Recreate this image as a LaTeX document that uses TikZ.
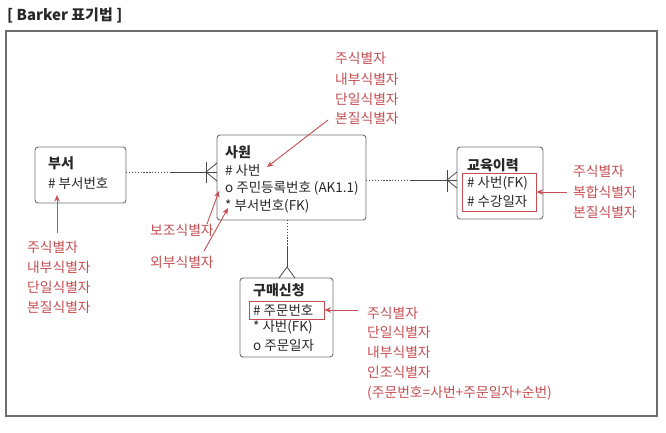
\documentclass[tikz,border=0pt]{standalone}
\usepackage{fontspec}
\setmainfont{Noto Sans CJK KR}
\usetikzlibrary{arrows.meta}
\definecolor{lblred}{RGB}{196,78,82}
\definecolor{txt}{RGB}{40,40,40}
\definecolor{boxgray}{RGB}{110,110,110}
\begin{document}
\begin{tikzpicture}[x=1pt,y=-1pt,
  ebox/.style={draw=boxgray, line width=0.9pt, rounded corners=3pt, inner sep=0pt},
  rbox/.style={draw=lblred, line width=1pt, inner sep=0pt},
  ttl/.style={font=\fontsize{14}{16}\selectfont\bfseries, text=txt, anchor=west, inner sep=0pt},
  att/.style={font=\fontsize{13.5}{15}\selectfont, text=txt, anchor=west, inner sep=0pt},
  lbl/.style={font=\fontsize{13.8}{15}\selectfont, text=lblred, anchor=west, inner sep=0pt},
  rel/.style={draw=txt!85, line width=0.8pt},
  reldot/.style={draw=txt!85, line width=0.9pt, dash pattern=on 1.3pt off 1.6pt},
  rarr/.style={draw=lblred, line width=0.9pt, -{Stealth[length=6.5pt,width=5.5pt]}}]
\useasboundingbox (0,0) rectangle (666,432);
% title and frame
\node[anchor=west, inner sep=0pt, text=txt, font=\fontsize{15}{17}\selectfont\bfseries] (title) at (7,15) {[ Barker 표기법 ]};
\draw[draw=boxgray, line width=1.4pt] (6,31) rectangle (657,416);

% boxes
\node[ebox, minimum width=91pt, minimum height=56pt] (buseo) at (80.5,175) {};
\node[ebox, minimum width=149pt, minimum height=85pt] (sawon) at (291.5,177.5) {};
\node[ebox, minimum width=86pt, minimum height=72pt] (edu) at (500,183) {};
\node[ebox, minimum width=93pt, minimum height=79pt] (order) at (286.5,317.5) {};

% texts 부서
\node[ttl] (buseoT) at (48,163) {부서};
\node[att] (buseoA) at (48,183) {\# 부서번호};
% 사원
\node[ttl] (sawonT) at (225,152) {사원};
\node[att] (sawonA) at (225,170) {\# 사번};
\node[att] (sawonB) at (225,188) {o 주민등록번호 (AK1.1)};
\node[att] (sawonC) at (225,206) {* 부서번호(FK)};
% 교육이력
\node[ttl] (eduT) at (467,165) {교육이력};
\node[rbox, minimum width=74pt, minimum height=38pt] (eduR) at (499,192) {};
\node[att] (eduA) at (467,183) {\# 사번(FK)};
\node[att] (eduB) at (467,201) {\# 수강일자};
% 구매신청
\node[ttl] (orderT) at (253,290) {구매신청};
\node[rbox, minimum width=75pt, minimum height=18pt] (orderR) at (286.5,310) {};
\node[att] (orderA) at (253,310) {\# 주문번호};
\node[att] (orderB) at (253,327) {* 사번(FK)};
\node[att] (orderC) at (253,345) {o 주문일자};

% relationship 부서 - 사원
\coordinate (r1a) at (126,172);
\coordinate (r1b) at (170,172);
\coordinate (r1c) at (217,172);
\draw[reldot] (r1a) -- (r1b);
\draw[rel] (r1b) -- (r1c);
\draw[rel] (206,162) -- (206,183);
\draw[rel] (217,163) -- (206,172) -- (217,181);

% relationship 사원 - 교육이력
\coordinate (r2a) at (366,180);
\coordinate (r2b) at (410,180);
\coordinate (r2c) at (457,180);
\draw[reldot] (r2a) -- (r2b);
\draw[rel] (r2b) -- (r2c);
\draw[rel] (447,170) -- (447,192);
\draw[rel] (457,172) -- (447,180) -- (457,188);

% relationship 사원 - 구매신청
\coordinate (r3a) at (287,220);
\coordinate (r3b) at (287,247);
\coordinate (r3c) at (287,267);
\draw[reldot] (r3a) -- (r3b);
\draw[rel] (r3b) -- (r3c);
\draw[rel] (279,278) -- (r3c) -- (295,278);

% label groups
\node[lbl] (topL1) at (335,58) {주식별자};
\node[lbl] (topL2) at (335,79) {내부식별자};
\node[lbl] (topL3) at (335,99) {단일식별자};
\node[lbl] (topL4) at (335,118) {본질식별자};
\coordinate (topS) at (328,120);
\coordinate (topE) at (267,167);
\draw[rarr] (topS) -- (topE);

\node[lbl] (leftL1) at (27,247) {주식별자};
\node[lbl] (leftL2) at (27,267) {내부식별자};
\node[lbl] (leftL3) at (27,287) {단일식별자};
\node[lbl] (leftL4) at (27,307) {본질식별자};
\coordinate (leftS) at (57,233);
\coordinate (leftE) at (57,195);
\draw[rarr] (leftS) -- (leftE);

\node[lbl] (subL) at (150,230) {보조식별자};
\node[lbl] (extL) at (150,262) {외부식별자};
\coordinate (subS) at (207,224);
\coordinate (subE) at (219,191);
\draw[rarr] (subS) -- (subE);
\coordinate (extS) at (204,251);
\coordinate (extE) at (228,208);
\draw[rarr] (extS) -- (extE);

\node[lbl] (eduL1) at (573,171) {주식별자};
\node[lbl] (eduL2) at (573,192) {복합식별자};
\node[lbl] (eduL3) at (573,212) {본질식별자};
\coordinate (eduS) at (567,192);
\draw[rarr] (eduS) -- (eduR.east);

\node[lbl] (ordL1) at (367,313) {주식별자};
\node[lbl] (ordL2) at (367,332) {단일식별자};
\node[lbl] (ordL3) at (367,352) {내부식별자};
\node[lbl] (ordL4) at (367,372) {인조식별자};
\node[lbl] (ordL5) at (367,393) {(주문번호=사번+주문일자+순번)};
\coordinate (ordS) at (358,310);
\draw[rarr] (ordS) -- (orderR.east);
\end{tikzpicture}
\end{document}
